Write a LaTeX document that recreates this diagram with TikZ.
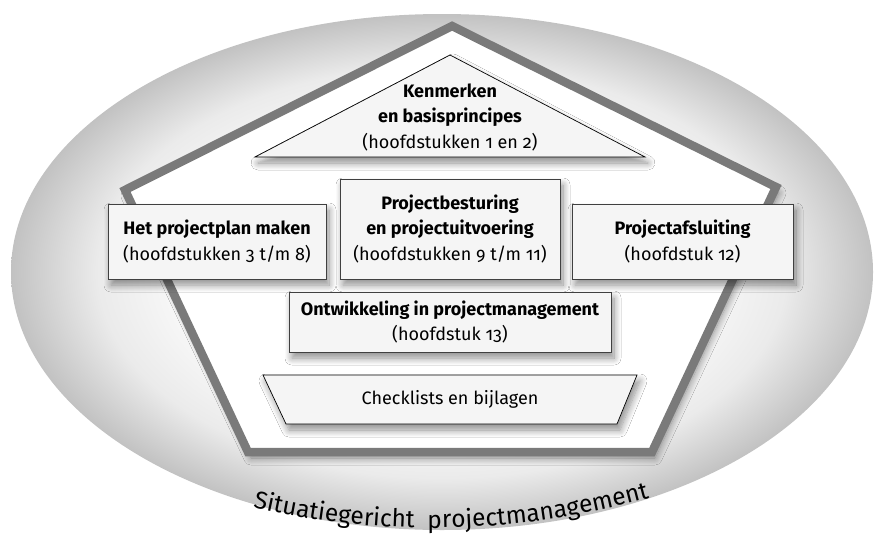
\documentclass[tikz,border=0pt]{standalone}
\usepackage{fontspec}
\setmainfont{Fira Sans}[Numbers=OldStyle]
\usetikzlibrary{shadows.blur,decorations.text}

\definecolor{rimgray}{gray}{0.48}
\definecolor{boxgray}{gray}{0.96}
\pgfdeclareradialshading{orb}{\pgfpoint{0bp}{0bp}}{%
  color(0bp)=(white); color(13bp)=(white); color(20bp)=(black!8);
  color(25bp)=(black!24); color(50bp)=(black!24)}

\begin{document}
\begin{tikzpicture}[x=1pt,y=-1pt,
    softshadow/.style={blur shadow={shadow xshift=3pt,shadow yshift=-6pt,
      shadow blur radius=7pt,shadow blur steps=10,shadow opacity=45}},
    chapter/.style={draw=black!75,fill=boxgray,align=center,inner sep=0pt,
      font=\fontsize{18}{25.5}\selectfont,softshadow},
    chaptertext/.style={align=center,font=\fontsize{18}{25.5}\selectfont}]
  \useasboundingbox (0,0) rectangle (885,538);

  % situational context
  \shade[shading=orb] (442,272) ellipse [x radius=431,y radius=258];

  % house outline
  \filldraw[draw=rimgray,fill=white,line width=8.5pt,line join=miter,softshadow]
    (452,26) -- (776,187) -- (652,452) -- (248,452) -- (125,190) -- cycle;

  % roof
  \filldraw[draw=black,fill=boxgray,line width=0.7pt,softshadow]
    (450,55) -- (645,157) -- (255,157) -- cycle;
  \node[chaptertext] (roof) at (450,117)
    {\textbf{Kenmerken}\\\textbf{en basisprincipes}\\(hoofdstukken 1 en 2)};

  % pillars
  \node[chapter,minimum width=218pt,minimum height=75pt] (plan) at (217,241.5)
    {\textbf{Het projectplan maken}\\(hoofdstukken 3 t/m 8)};
  \node[chapter,minimum width=220pt,minimum height=100pt] (control) at (450,229)
    {\textbf{Projectbesturing}\\\textbf{en projectuitvoering}\\(hoofdstukken 9 t/m 11)};
  \node[chapter,minimum width=221pt,minimum height=75pt] (closing) at (682.5,241.5)
    {\textbf{Projectafsluiting}\\(hoofdstuk 12)};
  \node[chapter,minimum width=322pt,minimum height=60pt] (develop) at (450,322)
    {\textbf{Ontwikkeling in projectmanagement}\\(hoofdstuk 13)};

  % foundation
  \filldraw[draw=black,fill=boxgray,line width=0.7pt,softshadow]
    (263,375) -- (637,375) -- (617,424) -- (286,424) -- cycle;
  \node[chaptertext] (base) at (450,399.5) {Checklists en bijlagen};

  % curved caption
  \path[decorate,decoration={text along path,text align=center,
      text={|\fontsize{24.5}{24.5}\selectfont|Situatiegericht{ }{ }projectmanagement}}]
    (232,502) .. controls (376,540) and (524,536) .. (670,492);
\end{tikzpicture}
\end{document}
